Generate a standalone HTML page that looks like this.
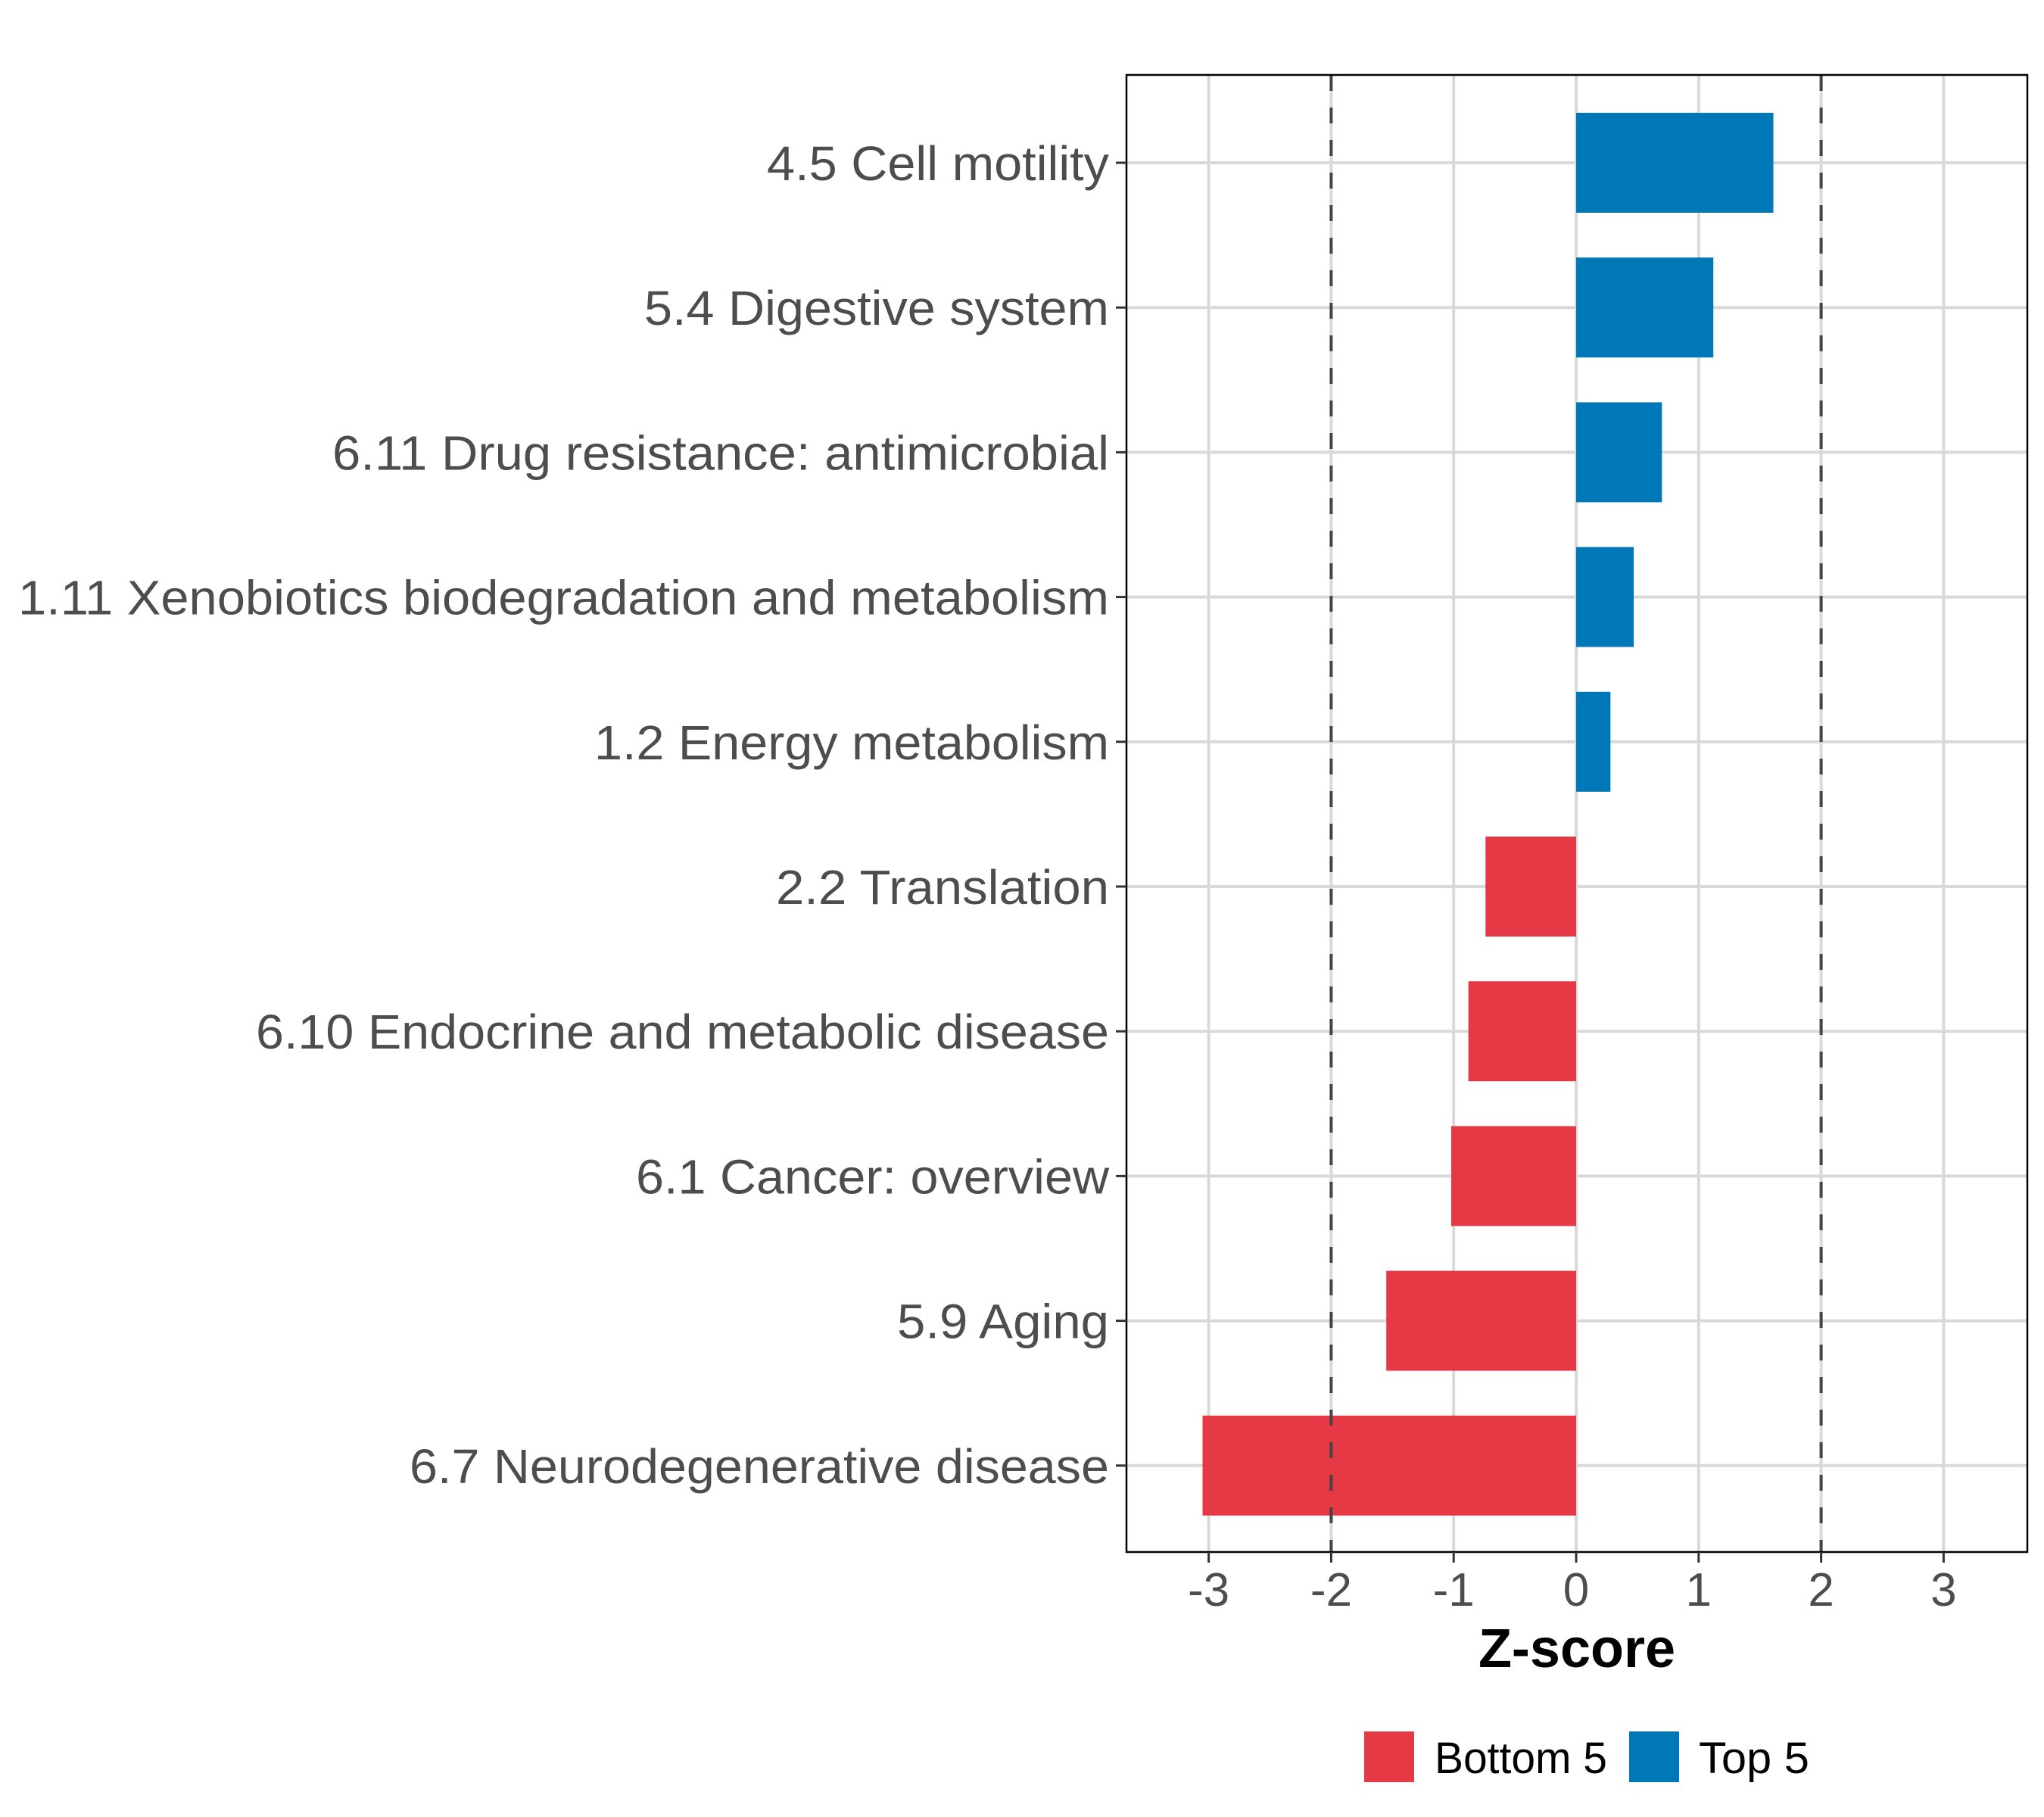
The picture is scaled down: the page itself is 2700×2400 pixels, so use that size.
<!DOCTYPE html>
<html><head><meta charset="utf-8"><style>
html,body{margin:0;padding:0;background:#fff;}
svg{display:block;font-family:"Liberation Sans",Arial,sans-serif;}
</style></head><body>
<svg id="chart" width="2700" height="2400" viewBox="0 0 2700 2400" xmlns="http://www.w3.org/2000/svg">
<rect width="2700" height="2400" fill="#fff"/>
<g id="grid"></g>
<g id="bars"></g>
<g id="refs"></g>
<rect x="1488" y="99" width="1190" height="1951" fill="none" stroke="#000" stroke-width="2.5"/>
<g id="yaxis"></g>
<g id="xaxis"></g>
<text x="2083" y="2202" text-anchor="middle" font-size="72" font-weight="bold" fill="#000">Z-score</text>
<g>
<rect x="1802" y="2287" width="66" height="67" fill="#E63946"/>
<text x="1895" y="2342" font-size="58" fill="#000" textLength="228" lengthAdjust="spacingAndGlyphs">Bottom 5</text>
<rect x="2152" y="2287" width="66" height="67" fill="#0077B6"/>
<text x="2244" y="2342" font-size="58" fill="#000" textLength="146" lengthAdjust="spacingAndGlyphs">Top 5</text>
</g>
</svg>
<script>
const categories = ["4.5 Cell motility","5.4 Digestive system","6.11 Drug resistance: antimicrobial","1.11 Xenobiotics biodegradation and metabolism","1.2 Energy metabolism","2.2 Translation","6.10 Endocrine and metabolic disease","6.1 Cancer: overview","5.9 Aging","6.7 Neurodegenerative disease"];
const zscores = [1.61, 1.12, 0.70, 0.47, 0.28, -0.74, -0.88, -1.02, -1.55, -3.05];
const groups = ["Top 5","Top 5","Top 5","Top 5","Top 5","Bottom 5","Bottom 5","Bottom 5","Bottom 5","Bottom 5"];
const xTicks = [-3,-2,-1,0,1,2,3];
const xTickLabels = ["-3","-2","-1","0","1","2","3"];
const refLines = [-2, 2];
const labelWidths = [452,614,1026,1441,680,440,1127,625,280,924];

const NS="http://www.w3.org/2000/svg";
const PL=1488, PR=2678, PT=99, PB=2050;
const X0=2082, UNIT=161.8;
const xs = v => X0 + v*UNIT;
const ROW0=215, ROWSTEP=191.2;
const ys = i => ROW0 + i*ROWSTEP;
const BARH=132;
function mk(tag, attrs, parent){const e=document.createElementNS(NS,tag);for(const k in attrs)e.setAttribute(k,attrs[k]);parent.appendChild(e);return e;}
const grid=document.getElementById('grid'), bars=document.getElementById('bars'), refs=document.getElementById('refs'), yaxis=document.getElementById('yaxis'), xaxis=document.getElementById('xaxis');

xTicks.forEach((t,i)=>{
  const l=mk('line',{x1:xs(t),x2:xs(t),y1:PT,y2:PB,stroke:'#d9d9d9','stroke-width':4},grid);
  
  
  const tk=mk('line',{x1:xs(t),x2:xs(t),y1:PB,y2:PB+14,stroke:'#333','stroke-width':3},xaxis);
  
  
  const tx=mk('text',{x:xs(t),y:2121,'text-anchor':'middle','font-size':62,fill:'#4d4d4d'},xaxis);
  tx.textContent=xTickLabels[i];
  
  
});
categories.forEach((c,i)=>{
  const y=ys(i);
  const g=mk('line',{x1:PL,x2:PR,y1:y,y2:y,stroke:'#d9d9d9','stroke-width':4},grid);
  
  
  const v=zscores[i];
  const r=mk('rect',{x:Math.min(xs(0),xs(v)),y:y-BARH/2,width:Math.abs(xs(v)-xs(0)),height:BARH,fill:groups[i]==='Top 5'?'#0077B6':'#E63946'},bars);
  
  
  const tk=mk('line',{x1:PL-14,x2:PL,y1:y,y2:y,stroke:'#333','stroke-width':3},yaxis);
  
  
  const tx=mk('text',{x:1465,y:y+23,'text-anchor':'end','font-size':64,fill:'#4d4d4d',textLength:labelWidths[i],lengthAdjust:'spacingAndGlyphs'},yaxis);
  tx.textContent=c;
  
  
});
refLines.forEach(v=>{
  const l=mk('line',{x1:xs(v),x2:xs(v),y1:PT,y2:PB,stroke:'#444','stroke-width':4,'stroke-dasharray':'21 22'},refs);
  
  
});
</script>
</body></html>
